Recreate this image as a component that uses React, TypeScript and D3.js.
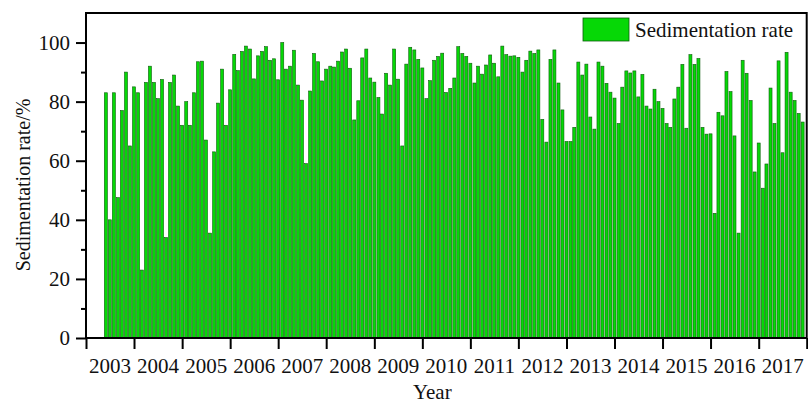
import React, { useEffect, useRef } from 'react';
import * as d3 from 'd3';

// monthly sedimentation rate (%), Jun 2003 - Dec 2017
const startYear = 2003;
const startMonth = 5; // June
const rates2003 = [83, 40, 83, 47.5, 77, 90, 65];
const rates2004 = [85, 83, 23, 86.5, 92, 86.5, 81, 87.5, 34, 86.5, 89, 78.5];
const rates2005 = [72, 80, 72, 83, 93.5, 93.7, 67, 35.5, 63, 79.5, 91, 72];
const rates2006 = [84, 96, 90.5, 97, 98.8, 97.8, 87.7, 95.5, 97, 98.6, 94, 94.5];
const rates2007 = [87.4, 100, 91, 92, 97.4, 85.6, 80.5, 59, 83.6, 96.3, 93.5, 87];
const rates2008 = [91, 92, 91.7, 93.7, 96.8, 97.8, 91.3, 73.8, 80.3, 94.8, 97.8, 88];
const rates2009 = [86.6, 81.4, 75.8, 89.6, 85.6, 97.8, 87.6, 65, 92.7, 98.4, 97.5, 94.3];
const rates2010 = [91.4, 81, 87.1, 94, 95.3, 96.4, 83.1, 84.5, 88, 98.6, 96.3, 95.3];
const rates2011 = [93, 86.3, 92, 89.3, 92.4, 95.8, 93, 88.4, 98.8, 95.9, 95.4, 95.5];
const rates2012 = [95, 90, 94, 97.1, 96.3, 97.5, 74, 66.3, 94.3, 97.5, 86.3, 77.2];
const rates2013 = [66.5, 66.5, 71.3, 93.4, 89, 92.7, 74.8, 70.7, 93.4, 92, 86.2, 83.2];
const rates2014 = [81.2, 72.6, 84.9, 90.4, 89.7, 90.4, 81.6, 89.2, 78.5, 77.5, 84.2, 80];
const rates2015 = [77.7, 72.6, 71.3, 80.9, 84.9, 92.6, 71, 95.9, 92.6, 94.6, 71.3, 69];
const rates2016 = [69.1, 42.2, 76.4, 75.2, 90.2, 83.4, 68.4, 35.5, 94, 89.6, 80.4, 56.2];
const rates2017 = [66, 50.7, 58.9, 84.6, 72.6, 93.8, 62.7, 96.7, 83.2, 80.4, 76, 73.1];

const years = d3.range(2003, 2018);
const yMajorTicks = [0, 20, 40, 60, 80, 100];
const yMinorTicks = [10, 30, 50, 70, 90];
const seriesName = 'Sedimentation rate';
const xTitle = 'Year';
const yTitle = 'Sedimentation rate/%';

const FONT = '"Liberation Serif", "Times New Roman", serif';
const BAR_FILL = '#06d806';
const BAR_STROKE = '#0d5c0d';

const allRates = [
  ...rates2003, ...rates2004, ...rates2005, ...rates2006, ...rates2007,
  ...rates2008, ...rates2009, ...rates2010, ...rates2011, ...rates2012,
  ...rates2013, ...rates2014, ...rates2015, ...rates2016, ...rates2017,
];

const App = () => {
  const ref = useRef(null);

  useEffect(() => {
    if (ref.current) drawChart(ref.current);
  }, []);

  return (
    <svg
      ref={ref}
      width={808}
      height={403}
      style={{ position: 'absolute', left: 0, top: 0, background: '#fff' }}
    />
  );
};

function drawChart(node) {
  const svg = d3.select(node);
  svg.selectAll('*').remove();

  const margin = { top: 13, right: 1.3, bottom: 65, left: 86 };
  const width = 808 - margin.left - margin.right;
  const height = 403 - margin.top - margin.bottom;

  const g = svg.append('g').attr('transform', `translate(${margin.left},${margin.top})`);

  const data = allRates.map((v, i) => ({
    date: new Date(startYear, startMonth + i, 1),
    value: v,
  }));

  const x = d3.scaleTime()
    .domain([new Date(2003, 0, 1), new Date(2018, 0, 1)])
    .range([0, width]);

  const y = d3.scaleLinear()
    .domain([0, 110])
    .range([height, 0]);

  const barW = 3.0;

  // bars
  g.selectAll('.bar')
    .data(data)
    .enter().append('rect')
    .attr('class', 'bar')
    .attr('x', d => x(d.date) - barW / 2)
    .attr('width', barW)
    .attr('y', d => y(d.value))
    .attr('height', d => height - y(d.value))
    .attr('fill', BAR_FILL)
    .attr('stroke', BAR_STROKE)
    .attr('stroke-width', 0.6);

  // x axis: year boundary ticks, labels in the middle of each year
  const xAxis = g.append('g')
    .attr('transform', `translate(0,${height})`)
    .call(d3.axisBottom(x)
      .tickValues(d3.range(2003, 2019).map(yr => new Date(yr, 0, 1)))
      .tickSize(11)
      .tickSizeOuter(0)
      .tickFormat(() => ''));
  xAxis.select('.domain').remove();
  xAxis.selectAll('line').attr('stroke', '#000').attr('stroke-width', 2);

  g.selectAll('.year-label')
    .data(years)
    .enter().append('text')
    .attr('class', 'year-label')
    .attr('x', d => (x(new Date(d, 0, 1)) + x(new Date(d + 1, 0, 1))) / 2)
    .attr('y', height + 35)
    .attr('text-anchor', 'middle')
    .style('font-family', FONT)
    .style('font-size', '21px')
    .attr('fill', '#111')
    .text(d => d);

  // y axis major + minor ticks
  const yAxis = g.append('g')
    .call(d3.axisLeft(y)
      .tickValues(yMajorTicks)
      .tickSize(10)
      .tickSizeOuter(0)
      .tickPadding(6));
  yAxis.select('.domain').remove();
  yAxis.selectAll('line').attr('stroke', '#000').attr('stroke-width', 2);
  yAxis.selectAll('text')
    .style('font-family', FONT)
    .style('font-size', '21px')
    .attr('fill', '#111');

  const yMinor = g.append('g')
    .call(d3.axisLeft(y)
      .tickValues(yMinorTicks)
      .tickSize(5)
      .tickSizeOuter(0)
      .tickFormat(() => ''));
  yMinor.select('.domain').remove();
  yMinor.selectAll('line').attr('stroke', '#000').attr('stroke-width', 2);

  // frame
  g.append('rect')
    .attr('x', 0)
    .attr('y', 0)
    .attr('width', width)
    .attr('height', height)
    .attr('fill', 'none')
    .attr('stroke', '#000')
    .attr('stroke-width', 2);

  // legend
  const legend = g.append('g').attr('transform', `translate(${583 - margin.left},${18 - margin.top})`);
  legend.append('rect')
    .attr('width', 46)
    .attr('height', 23)
    .attr('fill', BAR_FILL)
    .attr('stroke', BAR_STROKE)
    .attr('stroke-width', 0.8);
  legend.append('text')
    .attr('x', 52)
    .attr('y', 19)
    .style('font-family', FONT)
    .style('font-size', '21px')
    .attr('fill', '#111')
    .text(seriesName);

  // axis titles
  svg.append('text')
    .attr('x', margin.left + width / 2 - 14)
    .attr('y', 399)
    .attr('text-anchor', 'middle')
    .style('font-family', FONT)
    .style('font-size', '21px')
    .attr('fill', '#111')
    .text(xTitle);

  svg.append('text')
    .attr('transform', 'translate(30,185) rotate(-90)')
    .attr('text-anchor', 'middle')
    .style('font-family', FONT)
    .style('font-size', '20px')
    .attr('fill', '#111')
    .text(yTitle);
}

export default App;
